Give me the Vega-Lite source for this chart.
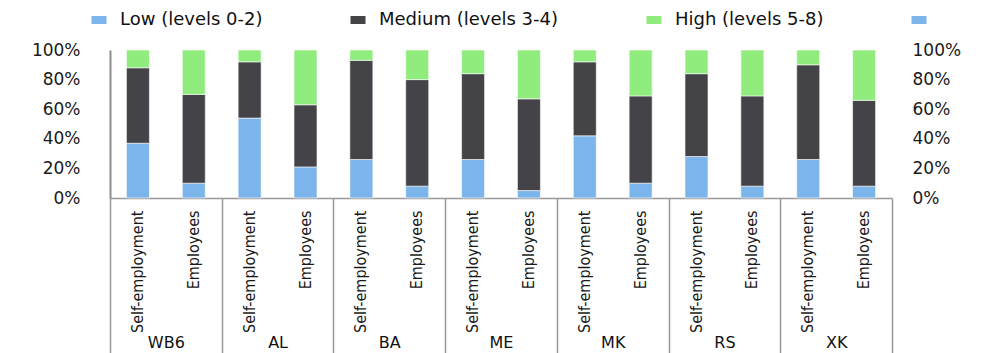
{
  "$schema": "https://vega.github.io/schema/vega-lite/v6.json",
  "width": 782,
  "height": 148,
  "autosize": {"type": "none"},
  "padding": {"left": 110, "top": 50, "right": 97, "bottom": 155},
  "background": "white",
  "config": {"view": {"stroke": null}, "axis": {"grid": false}},
  "data": {
    "values": [
      {"country": "WB6", "type": "Self-employment", "level": "Low (levels 0-2)", "minLevel": 0, "share": 37},
      {"country": "WB6", "type": "Self-employment", "level": "Medium (levels 3-4)", "minLevel": 3, "share": 51},
      {"country": "WB6", "type": "Self-employment", "level": "High (levels 5-8)", "minLevel": 5, "share": 12},
      {"country": "WB6", "type": "Employees", "level": "Low (levels 0-2)", "minLevel": 0, "share": 10},
      {"country": "WB6", "type": "Employees", "level": "Medium (levels 3-4)", "minLevel": 3, "share": 60},
      {"country": "WB6", "type": "Employees", "level": "High (levels 5-8)", "minLevel": 5, "share": 30},
      {"country": "AL", "type": "Self-employment", "level": "Low (levels 0-2)", "minLevel": 0, "share": 54},
      {"country": "AL", "type": "Self-employment", "level": "Medium (levels 3-4)", "minLevel": 3, "share": 38},
      {"country": "AL", "type": "Self-employment", "level": "High (levels 5-8)", "minLevel": 5, "share": 8},
      {"country": "AL", "type": "Employees", "level": "Low (levels 0-2)", "minLevel": 0, "share": 21},
      {"country": "AL", "type": "Employees", "level": "Medium (levels 3-4)", "minLevel": 3, "share": 42},
      {"country": "AL", "type": "Employees", "level": "High (levels 5-8)", "minLevel": 5, "share": 37},
      {"country": "BA", "type": "Self-employment", "level": "Low (levels 0-2)", "minLevel": 0, "share": 26},
      {"country": "BA", "type": "Self-employment", "level": "Medium (levels 3-4)", "minLevel": 3, "share": 67},
      {"country": "BA", "type": "Self-employment", "level": "High (levels 5-8)", "minLevel": 5, "share": 7},
      {"country": "BA", "type": "Employees", "level": "Low (levels 0-2)", "minLevel": 0, "share": 8},
      {"country": "BA", "type": "Employees", "level": "Medium (levels 3-4)", "minLevel": 3, "share": 72},
      {"country": "BA", "type": "Employees", "level": "High (levels 5-8)", "minLevel": 5, "share": 20},
      {"country": "ME", "type": "Self-employment", "level": "Low (levels 0-2)", "minLevel": 0, "share": 26},
      {"country": "ME", "type": "Self-employment", "level": "Medium (levels 3-4)", "minLevel": 3, "share": 58},
      {"country": "ME", "type": "Self-employment", "level": "High (levels 5-8)", "minLevel": 5, "share": 16},
      {"country": "ME", "type": "Employees", "level": "Low (levels 0-2)", "minLevel": 0, "share": 5},
      {"country": "ME", "type": "Employees", "level": "Medium (levels 3-4)", "minLevel": 3, "share": 62},
      {"country": "ME", "type": "Employees", "level": "High (levels 5-8)", "minLevel": 5, "share": 33},
      {"country": "MK", "type": "Self-employment", "level": "Low (levels 0-2)", "minLevel": 0, "share": 42},
      {"country": "MK", "type": "Self-employment", "level": "Medium (levels 3-4)", "minLevel": 3, "share": 50},
      {"country": "MK", "type": "Self-employment", "level": "High (levels 5-8)", "minLevel": 5, "share": 8},
      {"country": "MK", "type": "Employees", "level": "Low (levels 0-2)", "minLevel": 0, "share": 10},
      {"country": "MK", "type": "Employees", "level": "Medium (levels 3-4)", "minLevel": 3, "share": 59},
      {"country": "MK", "type": "Employees", "level": "High (levels 5-8)", "minLevel": 5, "share": 31},
      {"country": "RS", "type": "Self-employment", "level": "Low (levels 0-2)", "minLevel": 0, "share": 28},
      {"country": "RS", "type": "Self-employment", "level": "Medium (levels 3-4)", "minLevel": 3, "share": 56},
      {"country": "RS", "type": "Self-employment", "level": "High (levels 5-8)", "minLevel": 5, "share": 16},
      {"country": "RS", "type": "Employees", "level": "Low (levels 0-2)", "minLevel": 0, "share": 8},
      {"country": "RS", "type": "Employees", "level": "Medium (levels 3-4)", "minLevel": 3, "share": 61},
      {"country": "RS", "type": "Employees", "level": "High (levels 5-8)", "minLevel": 5, "share": 31},
      {"country": "XK", "type": "Self-employment", "level": "Low (levels 0-2)", "minLevel": 0, "share": 26},
      {"country": "XK", "type": "Self-employment", "level": "Medium (levels 3-4)", "minLevel": 3, "share": 64},
      {"country": "XK", "type": "Self-employment", "level": "High (levels 5-8)", "minLevel": 5, "share": 10},
      {"country": "XK", "type": "Employees", "level": "Low (levels 0-2)", "minLevel": 0, "share": 8},
      {"country": "XK", "type": "Employees", "level": "Medium (levels 3-4)", "minLevel": 3, "share": 58},
      {"country": "XK", "type": "Employees", "level": "High (levels 5-8)", "minLevel": 5, "share": 34}
    ]
  },
  "transform": [{"calculate": "datum.country + '|' + datum.type", "as": "bar"}],
  "layer": [
    {
      "mark": {"type": "bar", "stroke": "#ffffff", "strokeWidth": 0.6},
      "encoding": {
        "x": {
          "field": "bar",
          "type": "nominal",
          "sort": ["WB6|Self-employment", "WB6|Employees", "AL|Self-employment", "AL|Employees", "BA|Self-employment", "BA|Employees", "ME|Self-employment", "ME|Employees", "MK|Self-employment", "MK|Employees", "RS|Self-employment", "RS|Employees", "XK|Self-employment", "XK|Employees"],
          "scale": {"paddingInner": 0.588, "paddingOuter": 0.294},
          "axis": {
            "title": null,
            "orient": "bottom",
            "labelAngle": -90,
            "labelExpr": "split(datum.value, '|')[1]",
            "ticks": false,
            "labelPadding": 12,
            "domainColor": "#999999",
            "domainWidth": 1.5,
            "labelFont": "Liberation Sans Narrow, DejaVu Sans Condensed, Liberation Sans",
            "labelFontSize": 16,
            "labelColor": "#1a1a1a",
            "labelLimit": 300
          }
        },
        "y": {
          "field": "share",
          "type": "quantitative",
          "stack": "normalize",
          "scale": {"domain": [0, 1]},
          "axis": {
            "title": null,
            "orient": "left",
            "values": [0, 0.2, 0.4, 0.6, 0.8, 1],
            "format": ".0%",
            "ticks": false,
            "labelPadding": 30,
            "domainColor": "#8c8c8c",
            "domainWidth": 2,
            "labelFont": "DejaVu Sans",
            "labelFontSize": 17,
            "labelColor": "#1a1a1a"
          }
        },
        "color": {
          "field": "level",
          "type": "nominal",
          "scale": {
            "domain": ["Low (levels 0-2)", "Medium (levels 3-4)", "High (levels 5-8)", " "],
            "range": ["#7cb5ec", "#434348", "#90ed7d", "#7cb5ec"]
          },
          "legend": {
            "title": null,
            "orient": "none",
            "legendX": -20,
            "legendY": -39,
            "direction": "horizontal",
            "columns": 4,
            "columnPadding": 86,
            "labelOffset": 12,
            "labelFont": "DejaVu Sans",
            "labelFontSize": 18,
            "labelColor": "#111111",
            "labelLimit": 400,
            "symbolType": "M-1,-0.53H1V0.53H-1Z",
            "symbolSize": 225,
            "symbolStrokeWidth": 0,
            "symbolOpacity": 1
          }
        },
        "order": {"field": "minLevel", "type": "quantitative", "sort": "ascending"}
      }
    },
    {
      "mark": {"type": "bar", "opacity": 0},
      "encoding": {
        "x": {
          "field": "country",
          "type": "nominal",
          "sort": ["WB6", "AL", "BA", "ME", "MK", "RS", "XK"],
          "scale": {"paddingInner": 0, "paddingOuter": 0},
          "axis": {
            "title": null,
            "orient": "bottom",
            "domain": false,
            "ticks": true,
            "tickBand": "extent",
            "tickSize": 155,
            "tickColor": "#999999",
            "tickWidth": 1.5,
            "labelAngle": 0,
            "labelPadding": -19,
            "labelFont": "DejaVu Sans",
            "labelFontSize": 16,
            "labelColor": "#111111"
          }
        },
        "y": {
          "field": "share",
          "type": "quantitative",
          "stack": "normalize",
          "scale": {"domain": [0, 1]},
          "axis": {
            "title": null,
            "orient": "right",
            "values": [0, 0.2, 0.4, 0.6, 0.8, 1],
            "format": ".0%",
            "ticks": false,
            "domain": false,
            "labelPadding": 20,
            "labelFont": "DejaVu Sans",
            "labelFontSize": 17,
            "labelColor": "#1a1a1a"
          }
        }
      }
    }
  ],
  "resolve": {
    "scale": {"x": "independent", "y": "independent"},
    "axis": {"x": "independent", "y": "independent"}
  }
}
